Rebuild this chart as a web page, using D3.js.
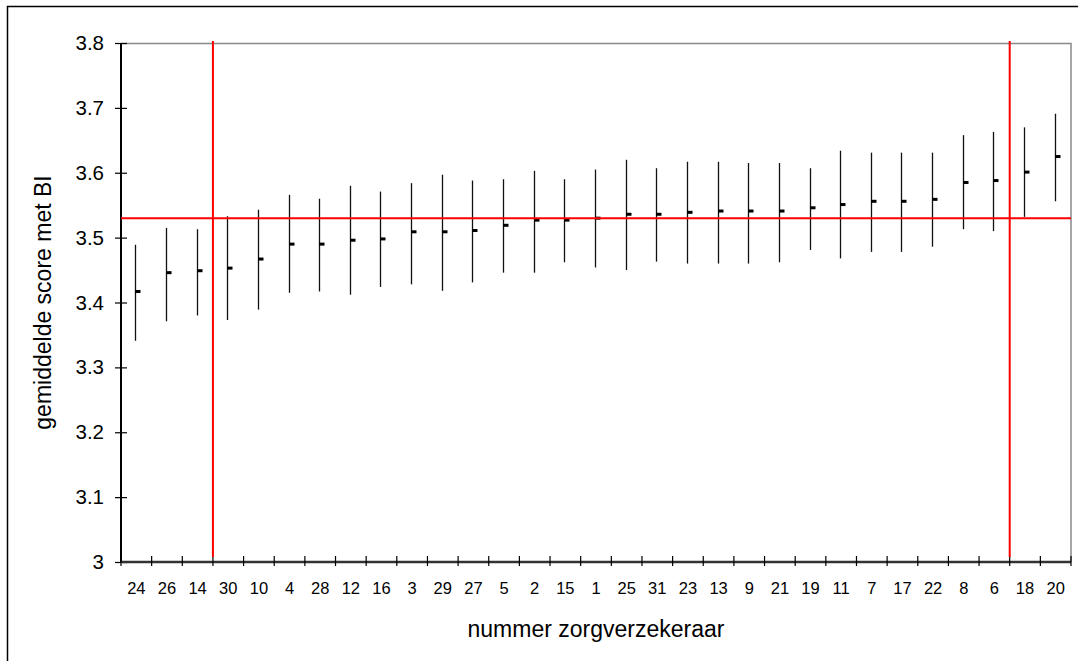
<!DOCTYPE html>
<html>
<head>
<meta charset="utf-8">
<script src="https://cdn.jsdelivr.net/npm/d3@7"></script>
<style>
  body { margin: 0; background: #fff; }
  text { font-family: "Liberation Sans", Arial, sans-serif; fill: #000; }
</style>
</head>
<body>
<div id="chart"></div>
<script>
var width = 1078, height = 661;
var padding = { t: 43, r: 7, b: 99, l: 121 };
var chartWidth = width - padding.l - padding.r;
var chartHeight = height - padding.t - padding.b;

//insurer numbers, sorted by mean score
const insurers = ["24", "26", "14", "30", "10", "4", "28", "12", "16", "3", "29", "27", "5", "2", "15", "1",
    "25", "31", "23", "13", "9", "21", "19", "11", "7", "17", "22", "8", "6", "18", "20"];
const means = [3.417, 3.446, 3.449, 3.453, 3.467, 3.490, 3.490, 3.496, 3.498, 3.509, 3.509, 3.511, 3.519, 3.527, 3.527, 3.530,
    3.536, 3.536, 3.539, 3.541, 3.541, 3.541, 3.546, 3.551, 3.556, 3.556, 3.559, 3.585, 3.588, 3.601, 3.625];
const lower = [3.341, 3.371, 3.380, 3.373, 3.389, 3.415, 3.417, 3.412, 3.424, 3.428, 3.418, 3.431, 3.446, 3.446, 3.462, 3.454,
    3.450, 3.463, 3.460, 3.460, 3.460, 3.462, 3.481, 3.468, 3.478, 3.478, 3.486, 3.513, 3.510, 3.532, 3.556];
const upper = [3.489, 3.515, 3.513, 3.533, 3.543, 3.566, 3.560, 3.580, 3.571, 3.584, 3.597, 3.588, 3.590, 3.603, 3.590, 3.605,
    3.620, 3.607, 3.617, 3.617, 3.615, 3.615, 3.607, 3.634, 3.631, 3.631, 3.631, 3.658, 3.663, 3.670, 3.691];
const yTicks = [3, 3.1, 3.2, 3.3, 3.4, 3.5, 3.6, 3.7, 3.8];
const overallMean = 3.53;
//red cut lines sit on the boundary after these insurers
const cutAfter = ["14", "6"];

const data = insurers.map((d, i) => ({ name: d, mean: means[i], lo: lower[i], hi: upper[i] }));

const svg = d3.select("#chart").append("svg")
    .attr("width", width)
    .attr("height", height);

//outer frame (runs off the right and bottom edge)
svg.append("rect")
    .attr("x", 7.5).attr("y", 6.5)
    .attr("width", width + 20).attr("height", height + 20)
    .attr("fill", "none").attr("stroke", "#000").attr("stroke-width", 1.5);

const g = svg.append("g").attr("transform", `translate(${padding.l}, ${padding.t})`);

const xScale = d3.scaleBand().domain(insurers).range([0, chartWidth]).padding(0);
const yScale = d3.scaleLinear().domain([3, 3.8]).range([chartHeight, 0]);
const xc = d => xScale(d) + xScale.bandwidth() / 2;

//gray top and right border of plot area
g.append("path")
    .attr("d", `M0,0.5H${chartWidth}V${chartHeight}`)
    .attr("fill", "none").attr("stroke", "#888").attr("stroke-width", 1.5);

//y axis
const yAxis = g.append("g")
    .call(d3.axisLeft(yScale).tickValues(yTicks).tickSize(6).tickPadding(12).tickFormat(d3.format("")));
yAxis.select(".domain").attr("stroke", "#000").attr("stroke-width", 2).attr("d", `M0,0V${chartHeight}`);
yAxis.selectAll(".tick line").attr("x1", -6).attr("x2", 6).attr("stroke", "#000").attr("stroke-width", 1.2);
yAxis.selectAll(".tick text").style("font-size", "20.5px").attr("font-family", null).attr("x", -17);

//x axis: labels in the middle of each band, ticks on band edges
const xAxis = g.append("g").attr("transform", `translate(0, ${chartHeight})`)
    .call(d3.axisBottom(xScale).tickSize(0).tickPadding(20));
xAxis.select(".domain").attr("stroke", "#333").attr("stroke-width", 2.5).attr("d", `M0,0H${chartWidth}`);
xAxis.selectAll(".tick text").style("font-size", "16.5px").attr("font-family", null);

g.append("g").selectAll("line")
    .data(d3.range(insurers.length + 1))
    .join("line")
    .attr("x1", i => i < insurers.length ? xScale(insurers[i]) : chartWidth)
    .attr("x2", i => i < insurers.length ? xScale(insurers[i]) : chartWidth)
    .attr("y1", chartHeight - 6)
    .attr("y2", chartHeight + 4)
    .attr("stroke", "#000").attr("stroke-width", 1.2);

//error bars
g.append("g").selectAll("line")
    .data(data)
    .join("line")
    .attr("x1", d => Math.round(xc(d.name)) - 0.5)
    .attr("x2", d => Math.round(xc(d.name)) - 0.5)
    .attr("y1", d => yScale(d.hi))
    .attr("y2", d => yScale(d.lo))
    .attr("stroke", "#111").attr("stroke-width", 1.3);

//mean markers
g.append("g").selectAll("rect")
    .data(data)
    .join("rect")
    .attr("x", d => Math.round(xc(d.name)) - 1)
    .attr("y", d => yScale(d.mean) - 1.5)
    .attr("width", 5.5)
    .attr("height", 3)
    .attr("fill", "#000");

//red reference lines
g.append("line")
    .attr("x1", 0).attr("x2", chartWidth)
    .attr("y1", yScale(overallMean)).attr("y2", yScale(overallMean))
    .attr("stroke", "#f00").attr("stroke-width", 2);

g.append("g").selectAll("line")
    .data(cutAfter)
    .join("line")
    .attr("x1", d => xScale(d) + xScale.bandwidth())
    .attr("x2", d => xScale(d) + xScale.bandwidth())
    .attr("y1", -2)
    .attr("y2", chartHeight - 5)
    .attr("stroke", "#f00").attr("stroke-width", 2);

//axis titles
g.append("text")
    .attr("x", chartWidth / 2)
    .attr("y", chartHeight + 75)
    .attr("text-anchor", "middle")
    .style("font-size", "23px")
    .text("nummer zorgverzekeraar");

g.append("text")
    .attr("transform", `translate(${-121 + 51}, ${chartHeight / 2}) rotate(-90)`)
    .attr("text-anchor", "middle")
    .style("font-size", "23px")
    .text("gemiddelde score met BI");
</script>
</body>
</html>
